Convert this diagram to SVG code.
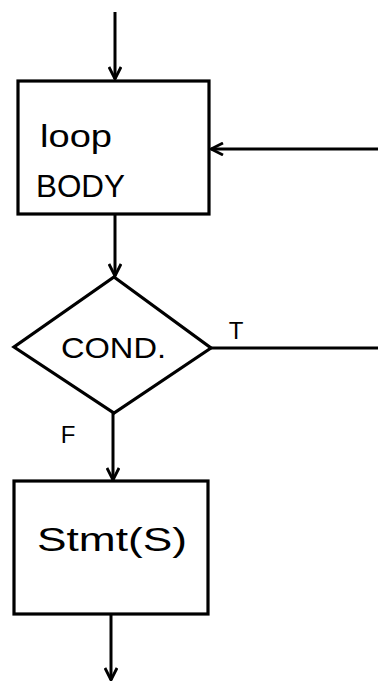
<svg xmlns="http://www.w3.org/2000/svg" width="378" height="682" viewBox="0 0 378 682">
<style>
.shape{fill:#fff;stroke:#000;stroke-width:3.2;stroke-linejoin:miter}
.line{fill:none;stroke:#000;stroke-width:3}
.lbl{font-family:"Liberation Sans","DejaVu Sans",sans-serif;fill:#000}
</style>
<defs>
<marker id="arr" viewBox="0 0 14 14" refX="13" refY="7" markerWidth="14" markerHeight="14" markerUnits="userSpaceOnUse" orient="auto">
<path d="M1,1 L13,7 L1,13" fill="none" stroke="#000" stroke-width="2.8"/>
</marker>
</defs>
<rect width="378" height="682" fill="#fff"/>
<g id="connectors">
<line class="line" x1="115" y1="12" x2="115" y2="79" marker-end="url(#arr)"/>
<line class="line" x1="378" y1="149" x2="211" y2="149" marker-end="url(#arr)"/>
<line class="line" x1="115" y1="214" x2="115" y2="276" marker-end="url(#arr)"/>
<line class="line" x1="211" y1="348" x2="378" y2="348"/>
<line class="line" x1="113" y1="413" x2="113" y2="480" marker-end="url(#arr)"/>
<line class="line" x1="111" y1="614" x2="111" y2="680" marker-end="url(#arr)"/>
</g>
<g id="loop-body">
<rect class="shape" x="18" y="81" width="191" height="133"/>
<text class="lbl" x="40" y="147" font-size="32" textLength="72" lengthAdjust="spacingAndGlyphs">loop</text>
<text class="lbl" x="36" y="197" font-size="32" textLength="89" lengthAdjust="spacingAndGlyphs">BODY</text>
</g>
<g id="cond">
<polygon class="shape" points="114,277 211,348 114,413 14,347"/>
<text class="lbl" x="61" y="358" font-size="29" textLength="105" lengthAdjust="spacingAndGlyphs">COND.</text>
<text class="lbl" x="236" y="339" font-size="24" text-anchor="middle">T</text>
<text class="lbl" x="68" y="443" font-size="24" text-anchor="middle">F</text>
</g>
<g id="stmts">
<rect class="shape" x="14" y="481" width="194" height="133"/>
<text class="lbl" x="37" y="551" font-size="34" textLength="150" lengthAdjust="spacingAndGlyphs">Stmt(S)</text>
</g>
</svg>
